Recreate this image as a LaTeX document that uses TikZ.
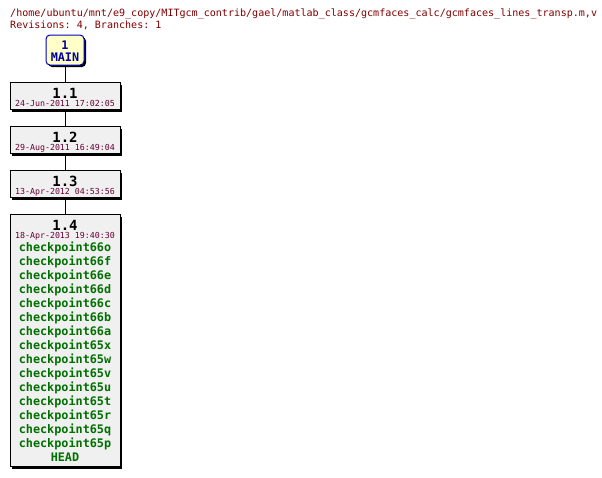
\documentclass[tikz,border=0pt]{standalone}
\usepackage{fontspec}
\setmonofont{DejaVu Sans Mono}
\usetikzlibrary{shadows}
\definecolor{color_rev_title}{HTML}{800000}
\definecolor{color_rev_date}{HTML}{660033}
\definecolor{color_rev_tag}{HTML}{007000}
\definecolor{color_rev_fill}{HTML}{F0F0F0}
\definecolor{color_main_fill}{HTML}{FFFFC8}
\definecolor{color_main_line}{HTML}{0000C0}
\definecolor{color_main_text}{HTML}{0000A0}
\def\revboxwidth{110}
\def\revcenterx{65}
\def\revtagstep{14}
\tikzset{
    revshadow/.style={drop shadow={shadow xshift=2pt,shadow yshift=-2pt,fill=black,opacity=1}},
    revbox/.style={draw=black,fill=color_rev_fill,line width=1pt,minimum width=\revboxwidth,inner sep=0pt,revshadow},
    mainbox/.style={draw=color_main_line,fill=color_main_fill,line width=1pt,rounded corners=4pt,minimum width=38,minimum height=30,inner sep=0pt,revshadow},
    revnum/.style={inner sep=0pt,anchor=base,text height=10pt,text depth=0pt,font=\ttfamily\bfseries\fontsize{14}{14}\selectfont},
    revdate/.style={inner sep=0pt,anchor=base,text height=6pt,text depth=0pt,text=color_rev_date,font=\ttfamily\fontsize{8.3}{8.3}\selectfont},
    revtag/.style={inner sep=0pt,anchor=base,text height=9pt,text depth=2pt,text=color_rev_tag,font=\ttfamily\bfseries\fontsize{11.8}{11.8}\selectfont},
    maintext/.style={inner sep=0pt,text=color_main_text,font=\ttfamily\bfseries\fontsize{11.8}{11.8}\selectfont},
    header/.style={inner sep=0pt,anchor=base west,text=color_rev_title,font=\ttfamily\fontsize{10.05}{10.05}\selectfont},
    revlink/.style={draw=black,line width=1pt}
}
% name, top, height, number, date
\def\revbox(#1,#2,#3,#4,#5){
    \node[revbox,anchor=north,minimum height=#3] (#1) at (\revcenterx,#2) {};
    \node[revnum] (#1num) at (\revcenterx,#2+16) {#4};
    \node[revdate] (#1date) at (\revcenterx,#2+24) {#5};
}

\begin{document}
\begin{tikzpicture}[x=1pt,y=-1pt]
    \useasboundingbox (0,0) rectangle (602,477);
    % header
    \node[header] (path) at (10,16) {/home/ubuntu/mnt/e9\_copy/MITgcm\_contrib/gael/matlab\_class/gcmfaces\_calc/gcmfaces\_lines\_transp.m,v};
    \node[header] (revs) at (10,28.5) {Revisions: 4, Branches: 1};
    % branch
    \node[mainbox] (main) at (\revcenterx,50) {};
    \node[maintext] (mainnum) at (\revcenterx,45.5) {1};
    \node[maintext] (mainname) at (\revcenterx,57) {MAIN};
    % revisions
    \revbox(r11,82,27,1.1,24-Jun-2011 17:02:05)
    \revbox(r12,126,27,1.2,29-Aug-2011 16:49:04)
    \revbox(r13,170,27,1.3,13-Apr-2012 04:53:56)
    \revbox(r14,214,252,1.4,18-Apr-2013 19:40:30)
    % tags of 1.4
    \foreach \tag [count=\i from 0] in {checkpoint66o,checkpoint66f,checkpoint66e,checkpoint66d,checkpoint66c,checkpoint66b,checkpoint66a,checkpoint65x,checkpoint65w,checkpoint65v,checkpoint65u,checkpoint65t,checkpoint65r,checkpoint65q,checkpoint65p,HEAD}
        \node[revtag] (tag\i) at (\revcenterx,251+\i*\revtagstep) {\tag};
    % links
    \draw[revlink] (main) -- (r11);
    \draw[revlink] (r11) -- (r12);
    \draw[revlink] (r12) -- (r13);
    \draw[revlink] (r13) -- (r14);
\end{tikzpicture}
\end{document}
